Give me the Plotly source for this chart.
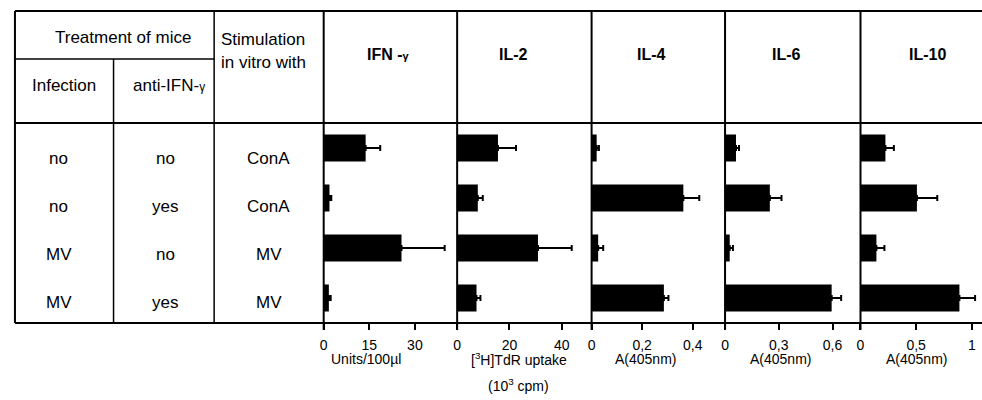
import plotly.graph_objects as go

W, H = 982, 400

# ---- data ----
rows = ["no|no|ConA", "no|yes|ConA", "MV|no|MV", "MV|yes|MV"]
infection = ["no", "no", "MV", "MV"]
anti_ifn = ["no", "yes", "no", "yes"]
stimulation = ["ConA", "ConA", "MV", "MV"]

ifn_vals = [13.8, 1.9, 25.6, 1.7]
ifn_err = [4.8, 0.6, 14.2, 0.6]
il2_vals = [15.6, 7.9, 30.9, 7.4]
il2_err = [6.9, 1.9, 12.9, 1.5]
il4_vals = [0.02, 0.363, 0.026, 0.286]
il4_err = [0.009, 0.063, 0.02, 0.018]
il6_vals = [0.061, 0.25, 0.026, 0.595]
il6_err = [0.017, 0.065, 0.018, 0.053]
il10_vals = [0.224, 0.507, 0.143, 0.889]
il10_err = [0.076, 0.183, 0.072, 0.141]

ifn_ticks = [0, 15, 30]
ifn_ticktext = ["0", "15", "30"]
il2_ticks = [0, 20, 40]
il2_ticktext = ["0", "20", "40"]
il4_ticks = [0, 0.2, 0.4]
il4_ticktext = ["0", "0,2", "0,4"]
il6_ticks = [0, 0.3, 0.6]
il6_ticktext = ["0", "0,3", "0,6"]
il10_ticks = [0, 0.5, 1]
il10_ticktext = ["0", "0,5", "1"]

panel_titles = ["IFN -<span style='font-size:11px'>γ</span>", "IL-2", "IL-4", "IL-6", "IL-10"]
axis_titles = ["Units/100µl", "[<sup>3</sup>H]TdR uptake", "A(405nm)", "A(405nm)", "A(405nm)"]
axis_subtitle = "(10<sup>3</sup> cpm)"

# ---- layout geometry (pixels) ----
def X(px):
    return px / W

def Y(py):
    return 1 - py / H

panel_edges = [321, 455, 590, 724, 860, 982]
panel_ranges = [[0, 43.9], [0, 51.4], [0, 0.528], [0, 0.756], [0, 1.092]]
top_y, mid_y, head_y, bot_y = 11, 59, 123, 323
left_x, col1_x, col2_x = 11, 110, 211

FONT = "Liberation Sans, Arial, sans-serif"

panels = [
    (ifn_vals, ifn_err, ifn_ticks, ifn_ticktext),
    (il2_vals, il2_err, il2_ticks, il2_ticktext),
    (il4_vals, il4_err, il4_ticks, il4_ticktext),
    (il6_vals, il6_err, il6_ticks, il6_ticktext),
    (il10_vals, il10_err, il10_ticks, il10_ticktext),
]

fig = go.Figure()
layout_axes = {}
for i, (vals, errs, tv, tt) in enumerate(panels):
    xa = "x" if i == 0 else f"x{i+1}"
    fig.add_trace(go.Bar(
        x=vals, y=rows, orientation="h", xaxis=xa, yaxis="y",
        marker=dict(color="black", line=dict(width=0)), width=0.54,
        error_x=dict(type="data", array=errs, arrayminus=[0] * len(errs),
                     symmetric=False, color="black", thickness=2, width=3),
        showlegend=False, hoverinfo="skip",
    ))
    key = "xaxis" if i == 0 else f"xaxis{i+1}"
    layout_axes[key] = dict(
        domain=[X(panel_edges[i]), X(panel_edges[i + 1])],
        range=panel_ranges[i], anchor="y",
        tickvals=tv, ticktext=tt, ticks="outside", ticklen=6, tickwidth=1.5,
        tickcolor="black", showgrid=False, zeroline=False, showline=False,
        ticklabelstandoff=3,
        tickfont=dict(family=FONT, size=14, color="black"), fixedrange=True,
    )

fig.update_layout(**layout_axes)
fig.update_layout(
    yaxis=dict(domain=[Y(bot_y), Y(head_y)], categoryorder="array", categoryarray=rows,
               range=[3.5, -0.5], showticklabels=False, showgrid=False, zeroline=False,
               showline=False, ticks="", fixedrange=True),
    width=W, height=H, margin=dict(l=0, r=0, t=0, b=0),
    paper_bgcolor="white", plot_bgcolor="rgba(0,0,0,0)",
    bargap=0.46,
)

# ---- table lines ----
shapes = []
def line(x0, y0, x1, y1, w=2):
    shapes.append(dict(type="line", xref="paper", yref="paper",
                       x0=X(x0), y0=Y(y0), x1=X(x1), y1=Y(y1),
                       line=dict(color="black", width=w)))

line(left_x, top_y, W, top_y, 2)
line(left_x, mid_y, col2_x, mid_y, 1.5)
line(left_x, head_y, W, head_y, 2)
line(left_x, bot_y, W, bot_y, 2)
line(left_x, top_y, left_x, bot_y, 2)
line(col1_x, mid_y, col1_x, bot_y, 1.5)
line(col2_x, top_y, col2_x, bot_y, 1.5)
for xe in panel_edges[:-1]:
    line(xe, top_y, xe, bot_y + 7, 2)
fig.update_layout(shapes=shapes)

# ---- text ----
ann = []
def text(t, x, y, size=17, bold=False, xanchor="center"):
    ann.append(dict(text=(f"<b>{t}</b>" if bold else t), x=X(x), y=Y(y), xref="paper", yref="paper",
                    xanchor=xanchor, yanchor="middle", showarrow=False,
                    font=dict(family=FONT, size=size, color="black")))

text("Treatment of mice", 119, 38, 17)
text("Infection", 60, 86, 17)
text("anti-IFN-<span style='font-size:12px'>γ</span>", 166, 86, 17)
text("Stimulation", 216, 39, 17, xanchor="left")
text("in vitro with", 216, 63, 17, xanchor="left")

header_x = [386, 512, 650, 786, 927]
for t, hx in zip(panel_titles, header_x):
    text(t, hx, 55, 16, bold=True)

row_y = [158, 206, 254, 302]
for r in range(len(rows)):
    text(infection[r], 55, row_y[r], 17)
    text(anti_ifn[r], 162, row_y[r], 17)
    text(stimulation[r], 266, row_y[r], 17)

title_x = [363, 517, 644, 780, 916]
for t, tx in zip(axis_titles, title_x):
    text(t, tx, 359, 14)
text(axis_subtitle, 517, 385, 14)
fig.update_layout(annotations=ann)

fig.write_html("out.html")
